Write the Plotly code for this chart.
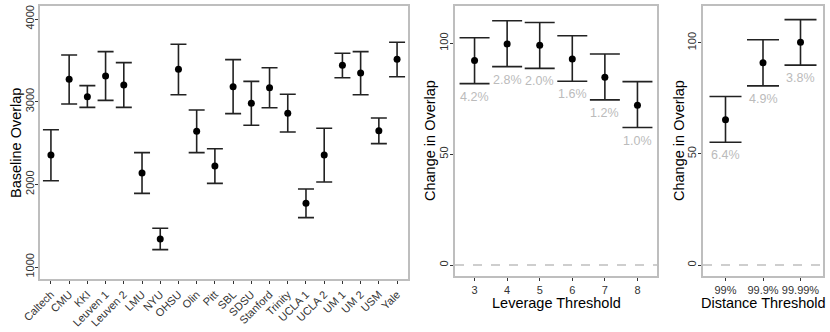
## Baseline overlap per site, and change in overlap under leverage / distance thresholds

import plotly.graph_objects as go

sites = ["Caltech", "CMU", "KKI", "Leuven 1", "Leuven 2", "LMU", "NYU", "OHSU", "Olin", "Pitt",
         "SBL", "SDSU", "Stanford", "Trinity", "UCLA 1", "UCLA 2", "UM 1", "UM 2", "USM", "Yale"]
baseline = [2355, 3270, 3060, 3310, 3202, 2137, 1339, 3391, 2641, 2222,
            3181, 2980, 3169, 2859, 1770, 2355, 3440, 3347, 2649, 3512]
baseline_lo = [2044, 2972, 2931, 3016, 2931, 1891, 1210, 3084, 2383, 2012,
               2855, 2714, 2927, 2633, 1597, 2028, 3290, 3084, 2492, 3302]
baseline_hi = [2661, 3564, 3194, 3605, 3472, 2383, 1468, 3694, 2899, 2431,
               3508, 3246, 3411, 3089, 1944, 2678, 3585, 3605, 2802, 3718]

leverage = [3, 4, 5, 6, 7, 8]
leverage_change = [92.2, 99.7, 99.1, 92.9, 84.7, 72.1]
leverage_lo = [81.8, 89.5, 88.7, 82.9, 74.5, 62.0]
leverage_hi = [102.5, 110.2, 109.4, 103.4, 95.2, 82.7]
leverage_pct = ["4.2%", "2.8%", "2.0%", "1.6%", "1.2%", "1.0%"]

distance = ["99%", "99.9%", "99.99%"]
distance_change = [65.3, 91.0, 100.2]
distance_lo = [55.2, 80.6, 89.9]
distance_hi = [75.8, 101.3, 110.4]
distance_pct = ["6.4%", "4.9%", "3.8%"]

W, H = 830, 332
FONT = "Liberation Sans, Arial, sans-serif"
FRAME = "#BEBEBE"
INK = "#222222"


def errs(mid, lo, hi):
    return [h - m for m, h in zip(mid, hi)], [m - l for m, l in zip(mid, lo)]


def point_trace(x, y, lo, hi, xa, ya, cap):
    up, down = errs(y, lo, hi)
    return go.Scatter(x=x, y=y, xaxis=xa, yaxis=ya, mode="markers",
                      marker=dict(color="black", size=7),
                      error_y=dict(type="data", symmetric=False, array=up, arrayminus=down,
                                   color=INK, thickness=1.6, width=cap),
                      showlegend=False, hoverinfo="x+y")


# layout helpers, all in window pixels
def px_x(a, b):
    return [a / W, b / W]


def px_y(top, bottom):
    return [1 - bottom / H, 1 - top / H]


def px_pt(x, y):
    return x / W, 1 - y / H


def y_range(top, bottom, v1, p1, v2, p2):
    # value range of a frame whose edges sit at rows top/bottom,
    # given two tick values v1, v2 sitting at rows p1, p2
    per = (p2 - p1) / (v1 - v2)
    return [v2 - (bottom - p2) / per, v1 + (p1 - top) / per]


TOP = 6
fig = go.Figure()
fig.add_trace(point_trace(sites, baseline, baseline_lo, baseline_hi, "x", "y", 8))
fig.add_trace(point_trace(leverage, leverage_change, leverage_lo, leverage_hi, "x2", "y2", 15))
fig.add_trace(point_trace(distance, distance_change, distance_lo, distance_hi, "x3", "y3", 16))

# dashed zero reference lines
for xa, ya in [("x2", "y2"), ("x3", "y3")]:
    fig.add_shape(type="line", xref=xa + " domain", yref=ya, x0=0, x1=1, y0=0, y1=0,
                  line=dict(color=FRAME, width=1.3, dash="dash"))

# percentage labels under each lower whisker
annots = []
for xa, ya, xs, ys, labels in [("x2", "y2", leverage, leverage_lo, leverage_pct),
                               ("x3", "y3", distance, distance_lo, distance_pct)]:
    for x, y, t in zip(xs, ys, labels):
        annots.append(dict(x=x, y=y, xref=xa, yref=ya, text=t, showarrow=False,
                           xanchor="center", yanchor="middle", yshift=-13,
                           font=dict(family=FONT, size=12.5, color="#BBBBBB")))

# axis titles
title_font = dict(family=FONT, size=14.5, color="black")
for (x, y), text, ang in [(px_pt(16, 143), "Baseline Overlap", -90),
                          (px_pt(430, 141), "Change in Overlap", -90),
                          (px_pt(679, 141), "Change in Overlap", -90),
                          (px_pt(556, 303), "Leverage Threshold", 0),
                          (px_pt(763, 303), "Distance Threshold", 0)]:
    annots.append(dict(x=x, y=y, xref="paper", yref="paper", text=text, textangle=ang,
                       xanchor="center", yanchor="middle", showarrow=False, font=title_font))

axis_common = dict(showline=True, mirror=True, linecolor=FRAME, linewidth=1.5,
                   showgrid=False, zeroline=False, ticks="outside", ticklen=3,
                   tickwidth=1, tickcolor="#333333", automargin=False,
                   ticklabeloverflow="allow",
                   tickfont=dict(family=FONT, size=11, color="#333333"))

fig.update_layout(
    width=W, height=H,
    margin=dict(l=0, r=0, t=0, b=0),
    plot_bgcolor="white", paper_bgcolor="white",
    showlegend=False,
    annotations=annots,
    xaxis=dict(axis_common, domain=px_x(40, 408), anchor="y", type="category",
               range=[-0.6, len(sites) - 0.4], tickangle=-45),
    yaxis=dict(axis_common, domain=px_y(TOP, 279), anchor="x",
               range=y_range(TOP, 279, 4000, 19, 1000, 267),
               tickvals=[1000, 2000, 3000, 4000], tickangle=-90, ticklabelstandoff=-3),
    xaxis2=dict(axis_common, domain=px_x(455, 657), anchor="y2", range=[2.4, 8.6],
                tickvals=leverage, tickangle=0),
    yaxis2=dict(axis_common, domain=px_y(TOP, 276), anchor="x2",
                range=y_range(TOP, 276, 100, 43.3, 0, 265),
                tickvals=[0, 50, 100], tickangle=-90, ticklabelstandoff=-2),
    xaxis3=dict(axis_common, domain=px_x(703, 823), anchor="y3", type="category",
                range=[-0.6, len(distance) - 0.4], tickangle=0),
    yaxis3=dict(axis_common, domain=px_y(TOP, 276), anchor="x3",
                range=y_range(TOP, 276, 100, 42.7, 0, 265),
                tickvals=[0, 50, 100], tickangle=-90, ticklabelstandoff=-2),
)

# drop the default 8px page margin so the figure fills the window exactly
fig.write_html("out.html", config={"displayModeBar": False},
               post_script="document.body.style.margin = '0px';")
